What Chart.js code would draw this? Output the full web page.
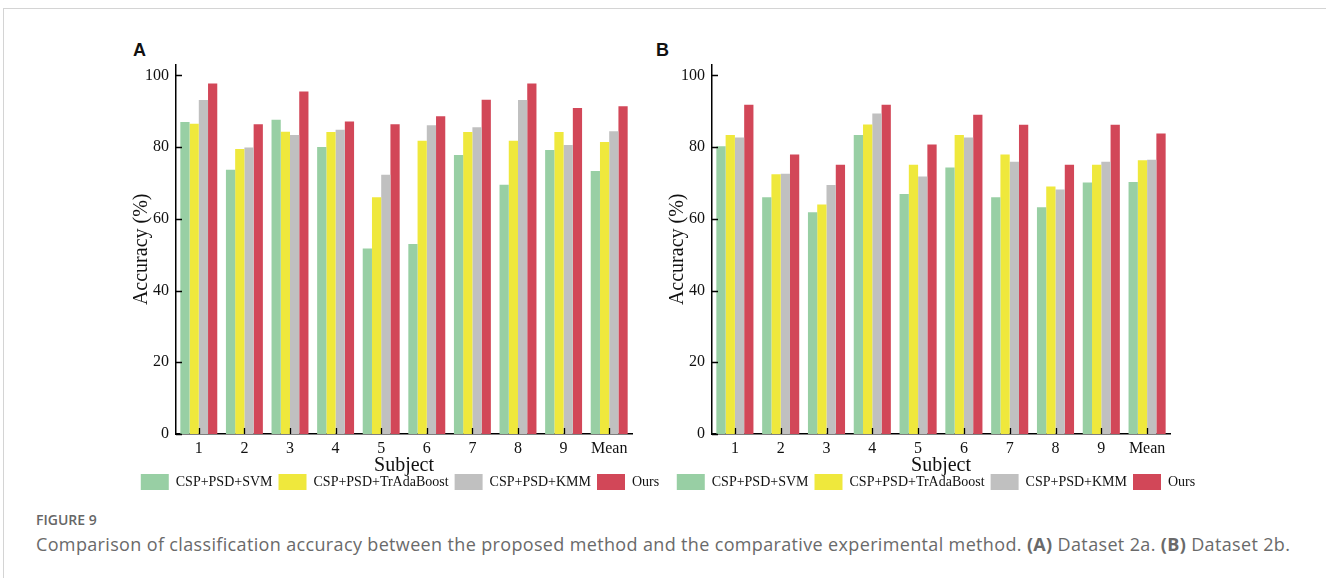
<!DOCTYPE html>
<html>
<head>
<meta charset="utf-8">
<script src="https://cdn.jsdelivr.net/npm/chart.js@4"></script>
<style>
  body { margin: 0; background: #fff; width: 1326px; height: 581px; overflow: hidden; position: relative; }
  .frame { position: absolute; left: 3px; top: 8px; right: 0; height: 569px; border-top: 1px solid #d4d4d4; border-left: 1px solid #d4d4d4; }
  .panel { position: absolute; top: 48px; width: 600px; height: 452px; }
  .tag { position: absolute; top: 40px; font: bold 18px "Liberation Sans", Arial, sans-serif; color: #111; }
  .fig { position: absolute; left: 36px; top: 510px; font: 600 14px "Open Sans", sans-serif; color: #666; }
  .cap { position: absolute; left: 36px; top: 532px; font: 18px "Open Sans", sans-serif; color: #6a6a6a; white-space: nowrap; letter-spacing: 0.35px; }
</style>
</head>
<body>
<div class="frame"></div>
<div class="tag" style="left:133px">A</div>
<div class="tag" style="left:656px">B</div>
<div class="panel" style="left:100px"><canvas id="chartA"></canvas></div>
<div class="panel" style="left:636px"><canvas id="chartB"></canvas></div>
<div class="fig">FIGURE 9</div>
<div class="cap">Comparison of classification accuracy between the proposed method and the comparative experimental method. <b>(A)</b> Dataset 2a. <b>(B)</b> Dataset 2b.</div>

<script>
const subjects = ['1', '2', '3', '4', '5', '6', '7', '8', '9', 'Mean'];
const methods = ['CSP+PSD+SVM', 'CSP+PSD+TrAdaBoost', 'CSP+PSD+KMM', 'Ours'];
const colors = ['#98cfa4', '#efe83c', '#c0c0c0', '#d24758'];

// Dataset 2a
const svmA   = [87.0, 73.7, 87.6, 80.0, 51.7, 53.0, 77.8, 69.5, 79.2, 73.3];
const tradaA = [86.5, 79.5, 84.3, 84.2, 66.0, 81.8, 84.2, 81.8, 84.2, 81.4];
const kmmA   = [93.1, 79.9, 83.4, 84.8, 72.3, 86.1, 85.5, 93.1, 80.6, 84.4];
const oursA  = [97.7, 86.4, 95.5, 87.1, 86.4, 88.6, 93.2, 97.7, 90.9, 91.4];

// Dataset 2b
const svmB   = [80.2, 66.0, 61.8, 83.4, 66.9, 74.3, 66.0, 63.2, 70.1, 70.3];
const tradaB = [83.4, 72.4, 64.0, 86.3, 75.1, 83.4, 77.9, 69.0, 75.1, 76.3];
const kmmB   = [82.7, 72.6, 69.4, 89.4, 71.8, 82.7, 75.9, 68.2, 75.9, 76.5];
const oursB  = [91.8, 77.9, 75.1, 91.8, 80.7, 89.0, 86.2, 75.1, 86.2, 83.8];

const yTicks = [0, 20, 40, 60, 80, 100];

const serif = '"Liberation Serif", "Times New Roman", serif';

// short tick marks pointing into the plot
const inwardTicks = {
    id: 'inwardTicks',
    afterDatasetsDraw(chart) {
        const ctx = chart.ctx;
        const x = chart.scales.x, y = chart.scales.y;
        const area = chart.chartArea;
        ctx.save();
        ctx.strokeStyle = '#000';
        ctx.lineWidth = 1.3;
        ctx.beginPath();
        y.ticks.forEach(t => {
            const py = Math.round(y.getPixelForValue(t.value)) + 0.5;
            ctx.moveTo(area.left, py);
            ctx.lineTo(area.left + 6, py);
        });
        subjects.forEach((s, i) => {
            const px = Math.round(x.getPixelForValue(i)) + 0.5;
            ctx.moveTo(px, area.bottom);
            ctx.lineTo(px, area.bottom - 6);
        });
        ctx.stroke();
        ctx.restore();
    }
};

function makeChart(id, series, rightGap) {
    return new Chart(document.getElementById(id), {
        type: 'bar',
        data: {
            labels: subjects,
            datasets: methods.map((m, i) => ({
                label: m,
                data: series[i],
                backgroundColor: colors[i],
                borderWidth: 0,
                categoryPercentage: 0.81,
                barPercentage: 1.0
            }))
        },
        options: {
            responsive: true,
            maintainAspectRatio: false,
            animation: false,
            layout: { padding: { top: 0, left: 0, right: 0, bottom: 0 } },
            plugins: {
                tooltip: { enabled: false },
                legend: {
                    position: 'bottom',
                    labels: {
                        boxWidth: 28,
                        boxHeight: 16,
                        padding: 6,
                        color: '#111',
                        font: { family: serif, size: 14 }
                    }
                }
            },
            scales: {
                x: {
                    grid: { display: false, drawTicks: false },
                    border: { display: true, color: '#000', width: 1.5 },
                    ticks: { color: '#111', padding: 5, font: { family: serif, size: 16 } },
                    title: {
                        display: true, text: 'Subject', color: '#111',
                        font: { family: serif, size: 20 },
                        padding: { top: 0, bottom: -10 }
                    },
                    afterFit: s => { s.height = 34; }
                },
                y: {
                    min: 0, max: 103,
                    grid: { display: false, drawTicks: false },
                    border: { display: true, color: '#000', width: 1.5 },
                    afterBuildTicks: s => { s.ticks = yTicks.map(v => ({ value: v })); },
                    ticks: { color: '#111', padding: 7, font: { family: serif, size: 16 } },
                    title: {
                        display: true, text: 'Accuracy (%)', color: '#111',
                        font: { family: serif, size: 20 },
                        padding: { top: 30, bottom: 0 }
                    },
                    afterFit: s => { s.width = 76; }
                },
                yR: {
                    type: 'linear',
                    position: 'right',
                    display: true,
                    grid: { display: false, drawTicks: false },
                    border: { display: false },
                    ticks: { display: false },
                    afterFit: s => { s.width = rightGap; }
                }
            }
        },
        plugins: [inwardTicks]
    });
}

makeChart('chartA', [svmA, tradaA, kmmA, oursA], 68);
makeChart('chartB', [svmB, tradaB, kmmB, oursB], 66);
</script>
</body>
</html>
